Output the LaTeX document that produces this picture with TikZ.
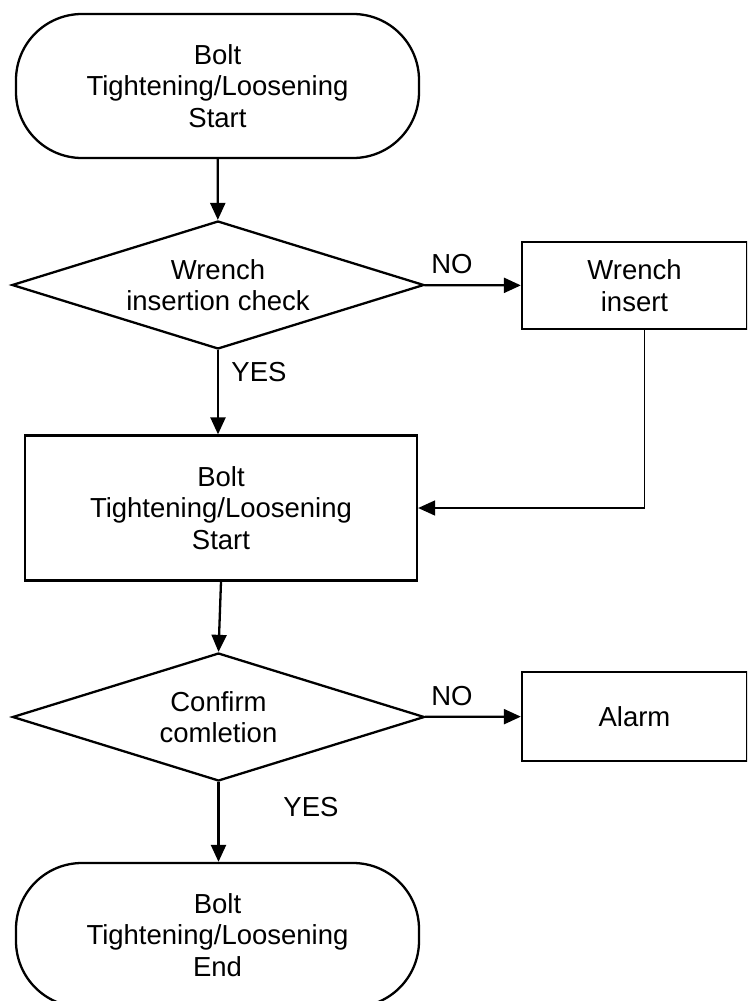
\documentclass[tikz,border=0pt]{standalone}
\usepackage{fontspec}
\setmainfont{Liberation Sans}
\usetikzlibrary{shapes.geometric,arrows.meta,calc}

\begin{document}
\begin{tikzpicture}[x=1pt,y=-1pt,
  every node/.style={font=\fontsize{27.5}{31.5}\selectfont, align=center, inner sep=0pt},
  terminal/.style={draw, rectangle, rounded corners=66pt, minimum width=403pt, minimum height=144pt},
  process/.style={draw, rectangle},
  decision/.style={draw, diamond, aspect=3.2, minimum width=412pt, minimum height=128pt},
  flow/.style={-{Triangle[length=17pt,width=15pt]}},
  line width=2.3pt]
\useasboundingbox (0,0) rectangle (747,1001);
\clip (0,0) rectangle (747,1001);

% boxes
\node[terminal] (start) at (217.5,86) {Bolt\\Tightening/Loosening\\Start};
\node[decision] (chk) at (218,285) {Wrench\\insertion check};
\node[process, minimum width=225pt, minimum height=87pt] (ins) at (634.5,285.5) {Wrench\\insert};
\node[process, minimum width=392pt, minimum height=145pt] (run) at (221,508) {Bolt\\Tightening/Loosening\\Start};
\node[decision] (done) at (218.5,717) {Confirm\\comletion};
\node[process, minimum width=225pt, minimum height=89pt] (alarm) at (634.5,716.5) {Alarm};
\node[terminal] (stop) at (217.5,935) {Bolt\\Tightening/Loosening\\End};

% branch labels
\node (no1) at (452,264) {NO};
\node (yes1) at (259,372) {YES};
\node (no2) at (452,696) {NO};
\node (yes2) at (311,807) {YES};

% connectors
\draw[flow] (start) -- (chk);
\draw[flow] (chk) -- (ins);
\draw[flow] (chk.south) -- (chk.south |- run.north);
\draw[flow, line width=1.7pt] ($(ins.south)+(10,0)$) |- (run.east);
\draw[flow] (run.south) -- (done.north);
\draw[flow] (done) -- (alarm);
\draw[flow] (done.south) -- (done.south |- stop.north);
\end{tikzpicture}
\end{document}
